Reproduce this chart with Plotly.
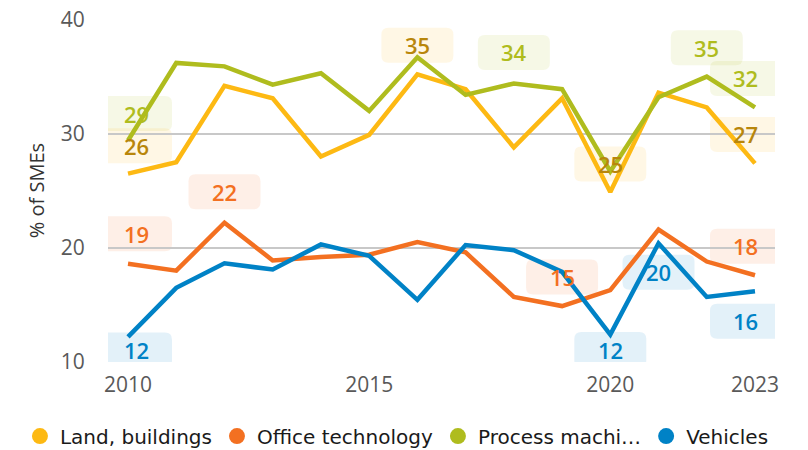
import plotly.graph_objects as go

years = list(range(2010, 2024))
land = [26.5, 27.5, 34.2, 33.1, 28.0, 29.9, 35.2, 33.9, 28.8, 33.1, 24.9, 33.6, 32.3, 27.4]
office = [18.6, 18.0, 22.2, 18.9, 19.2, 19.4, 20.5, 19.6, 15.7, 14.9, 16.3, 21.6, 18.8, 17.6]
process = [29.4, 36.2, 35.9, 34.3, 35.3, 32.0, 36.7, 33.4, 34.4, 33.9, 26.7, 33.2, 35.0, 32.3]
vehicles = [12.2, 16.5, 18.65, 18.1, 20.3, 19.3, 15.45, 20.25, 19.8, 17.9, 12.4, 20.4, 15.7, 16.2]

series_names = ["Land, buildings", "Office technology", "Process machi…", "Vehicles"]
series_values = [land, office, process, vehicles]
line_colors = ["#FDB913", "#F37021", "#AFBC1E", "#0082C6"]
text_colors = ["#B8860B", "#F37021", "#AFBC1E", "#0082C6"]
box_colors = ["rgba(253,185,19,0.11)", "rgba(243,112,33,0.11)",
              "rgba(175,188,30,0.11)", "rgba(0,130,198,0.11)"]

x_ticks = [2010, 2015, 2020, 2023]
y_ticks = [10, 20, 30, 40]

# labelled points: (series index, year)
label_points = [
    (2, 2010), (0, 2010), (1, 2010), (3, 2010),
    (1, 2012), (0, 2016), (2, 2018), (0, 2020),
    (2, 2022), (2, 2023), (0, 2023), (1, 2019),
    (3, 2020), (3, 2021), (1, 2023), (3, 2023),
]
# pixel offsets of each label box (style only)
label_offsets = [
    (8, 27), (8, 28), (8, 30), (8, -13),
    (0, 31), (0, 29), (0, 31), (0, 28),
    (0, 29), (-9, 29), (-9, 29), (0, 29),
    (0, -15), (0, -29), (-9, 29), (-9, -30),
]

FONT = "Open Sans"
LEG_FONT = "DejaVu Sans"

fig = go.Figure()
for name, vals, col in zip(series_names, series_values, line_colors):
    fig.add_trace(go.Scatter(x=years, y=vals, mode="lines", name=name,
                             line=dict(color=col, width=4.5), showlegend=False,
                             legendgroup=name, hoverinfo="x+y"))
for name, col in zip(series_names, line_colors):
    fig.add_trace(go.Scatter(x=[None], y=[None], mode="markers", name=name,
                             marker=dict(color=col, size=18), legendgroup=name))


def rrect(cx, cy, w, h, r):
    x0, x1 = cx - w / 2, cx + w / 2
    y0, y1 = cy - h / 2, cy + h / 2
    return (f"M {x0+r},{y0} L {x1-r},{y0} Q {x1},{y0} {x1},{y0+r} "
            f"L {x1},{y1-r} Q {x1},{y1} {x1-r},{y1} L {x0+r},{y1} "
            f"Q {x0},{y1} {x0},{y1-r} L {x0},{y0+r} Q {x0},{y0} {x0+r},{y0} Z")


shapes = []
annotations = []
for (si, yr), (dx, dy) in zip(label_points, label_offsets):
    v = series_values[si][years.index(yr)]
    shapes.append(dict(type="path", xref="x", yref="y", xsizemode="pixel",
                       ysizemode="pixel", xanchor=yr, yanchor=v,
                       path=rrect(dx, dy, 72, 35, 7), fillcolor=box_colors[si],
                       line=dict(width=0), layer="below"))
    annotations.append(dict(x=yr, y=v, xref="x", yref="y", text=str(round(v)),
                            showarrow=False, xshift=dx, yshift=dy,
                            font=dict(family=FONT, size=22, weight=600,
                                      color=text_colors[si])))

fig.update_layout(
    width=808, height=450,
    margin=dict(l=108, r=33, t=19, b=88, autoexpand=False),
    plot_bgcolor="white", paper_bgcolor="white",
    font=dict(family=FONT, size=21, color="#595959"),
    shapes=shapes, annotations=annotations,
    showlegend=True,
    legend=dict(orientation="h", xref="paper", yref="paper",
                x=-0.132, xanchor="left", y=-0.216, yanchor="middle",
                font=dict(family=LEG_FONT, size=20, color="#1a1a1a"),
                itemwidth=30, tracegroupgap=0, bgcolor="rgba(0,0,0,0)"),
    xaxis=dict(range=[2009.585, 2023.415], tickvals=x_ticks, showgrid=False,
               zeroline=False, showline=False, ticks="outside", ticklen=4,
               tickcolor="rgba(0,0,0,0)", ticklabeloverflow="allow"),
    yaxis=dict(range=[10, 40.05], tickvals=y_ticks, showgrid=True, gridcolor="#C8C8C8",
               gridwidth=1.5, zeroline=False, showline=False, ticks="outside",
               ticklen=18, tickcolor="rgba(0,0,0,0)", ticklabeloverflow="allow",
               title=dict(text="% of SMEs", standoff=10,
                          font=dict(family=FONT, size=20, color="#333333"))),
)
for tr in fig.data:
    tr.cliponaxis = False

# remove the default 8px page margin so the 808x450 figure fills the window
fig.write_html("out.html", config={"displayModeBar": False},
               post_script="document.body.style.margin='0';"
                           "document.body.style.overflow='hidden';")
